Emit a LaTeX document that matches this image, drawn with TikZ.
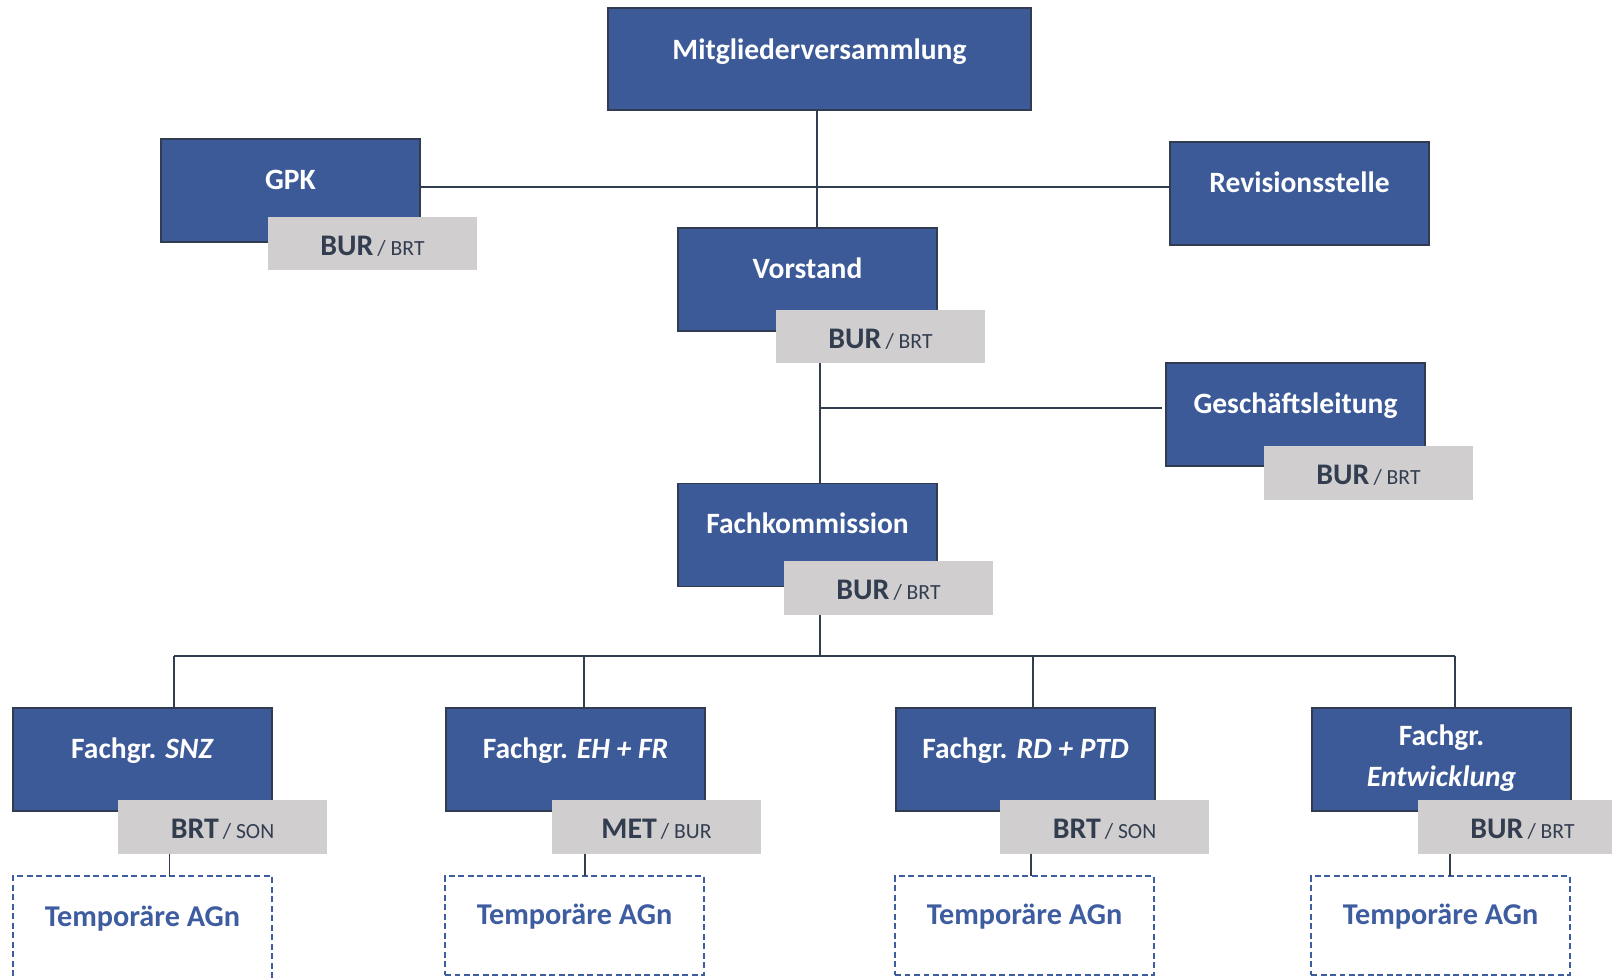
\documentclass[tikz,border=0pt]{standalone}
\usepackage{fontspec}
\setmainfont{Carlito}
\usetikzlibrary{positioning,calc}

\definecolor{boxblue}{RGB}{60,90,152}
\definecolor{boxedge}{RGB}{50,60,80}
\definecolor{rolegray}{RGB}{208,206,206}
\definecolor{roletext}{RGB}{50,62,80}
\definecolor{agblue}{RGB}{62,92,160}
\definecolor{linecol}{RGB}{50,62,80}

% big chair / small deputy in the grey tags
\newcommand{\roles}[2]{{\fontsize{17}{20}\selectfont #1}\ {\mdseries\fontsize{12.3}{14}\selectfont / #2}}

\tikzset{
  organ/.style={draw=boxedge, fill=boxblue, line width=1.1pt, minimum width=5.18cm, minimum height=2.06cm,
    inner sep=0pt, outer sep=0pt, text=white, font=\bfseries\fontsize{16.8}{19}\selectfont,
    text height=10pt, text depth=11.7pt},
  organtext/.style={text=white, font=\bfseries\fontsize{16.8}{19}\selectfont, anchor=base, inner sep=0pt},
  role/.style={fill=rolegray, minimum width=4.18cm, minimum height=1.08cm, inner sep=0pt, outer sep=0pt,
    text=roletext, font=\bfseries, text height=14pt, text depth=0.4pt},
  agbox/.style={draw=agblue, dash pattern=on 3.4pt off 2pt, line width=1.1pt, minimum width=5.18cm,
    minimum height=1.98cm, inner sep=0pt, outer sep=0pt, text=agblue,
    font=\bfseries\fontsize{17.2}{20}\selectfont, text height=10pt, text depth=10.6pt},
  conn/.style={draw=linecol, line width=1.1pt}
}

\begin{document}
\begin{tikzpicture}[x=0.02cm, y=-0.02cm]
    \useasboundingbox (0,0) rectangle (1612,977);
    \clip (0,0) rectangle (1612,977);

    % Top level
    \node[organ, minimum width=8.46cm, minimum height=2.04cm, text depth=8.9pt] (mv) at (819.5,59) {Mitgliederversammlung};
    \node[organ] (gpk) at (290.5,190.5) {GPK};
    \node[role] (gpkR) at (372.5,243.5) {\roles{BUR}{BRT}};
    \node[organ] (rev) at (1299.5,193.5) {Revisionsstelle};

    % Vorstand and Geschaeftsleitung
    \node[organ] (vor) at (807.5,279.5) {Vorstand};
    \node[role] (vorR) at (880.5,336.5) {\roles{BUR}{BRT}};
    \node[organ] (gl) at (1295.5,414.5) {Geschäftsleitung};
    \node[role] (glR) at (1368.5,472.5) {\roles{BUR}{BRT}};

    % Fachkommission
    \node[organ] (fk) at (807.5,535) {Fachkommission};
    \node[role] (fkR) at (888.5,587.5) {\roles{BUR}{BRT}};

    % Fachgruppen
    \node[organ] (snz) at (142.5,759.5) {Fachgr. \textit{SNZ}};
    \node[role] (snzR) at (222.5,826.5) {\roles{BRT}{SON}};
    \node[organ] (eh) at (575.5,759.5) {Fachgr. \textit{EH + FR}};
    \node[role] (ehR) at (656.5,826.5) {\roles{MET}{BUR}};
    \node[organ] (rd) at (1025.5,759.5) {Fachgr. \textit{RD + PTD}};
    \node[role] (rdR) at (1104.5,826.5) {\roles{BRT}{SON}};
    \node[organ] (ent) at (1441.5,759.5) {};
    \node[organtext] (entA) at (1441.5,745.7) {Fachgr.};
    \node[organtext] (entB) at (1441.5,786) {\textit{Entwicklung}};
    \node[role] (entR) at (1522.5,826.5) {\roles{BUR}{BRT}};

    % temporary working groups
    \node[agbox, minimum height=2.18cm, text depth=14.6pt] (snzA) at (142.5,930.5) {Temporäre AGn};
    \node[agbox] (ehA) at (574.5,925.5) {Temporäre AGn};
    \node[agbox] (rdA) at (1024.5,925.5) {Temporäre AGn};
    \node[agbox] (entA2) at (1440.5,925.5) {Temporäre AGn};

    % helper points
    \coordinate (axisA) at (817,0);
    \coordinate (axisB) at (820,0);
    \coordinate (hubR) at (817,187);
    \coordinate (hubG) at (820,408);
    \coordinate (d1) at (174,656);
    \coordinate (d2) at (584,656);
    \coordinate (d3) at (1033,656);
    \coordinate (d4) at (1455,656);

    % connectors
    \draw[conn] (mv.south -| axisA) -- (vor.north -| axisA);
    \draw[conn] (gpk.east |- hubR) -- (rev.west |- hubR);
    \draw[conn] (vorR.south -| axisB) -- (fk.north -| axisB);
    \draw[conn, shorten >=0.08cm] (hubG) -- (hubG -| gl.west);
    \draw[conn] (fkR.south -| axisB) -- (d1 -| axisB);
    \draw[conn] (d1) -- (d4);
    \draw[conn] (d1) -- (d1 |- snz.north);
    \draw[conn] (d2) -- (d2 |- eh.north);
    \draw[conn] (d3) -- (d3 |- rd.north);
    \draw[conn] (d4) -- (d4 |- ent.north);

    % tags down to the working groups
    \draw[conn] ([xshift=-1.06cm]snzR.south) -- ([xshift=-1.06cm]snzR.south |- snzA.north);
    \draw[conn] ([xshift=-1.43cm]ehR.south) -- ([xshift=-1.43cm]ehR.south |- ehA.north);
    \draw[conn] ([xshift=-1.47cm]rdR.south) -- ([xshift=-1.47cm]rdR.south |- rdA.north);
    \draw[conn] ([xshift=-1.45cm]entR.south) -- ([xshift=-1.45cm]entR.south |- entA2.north);
\end{tikzpicture}
\end{document}
